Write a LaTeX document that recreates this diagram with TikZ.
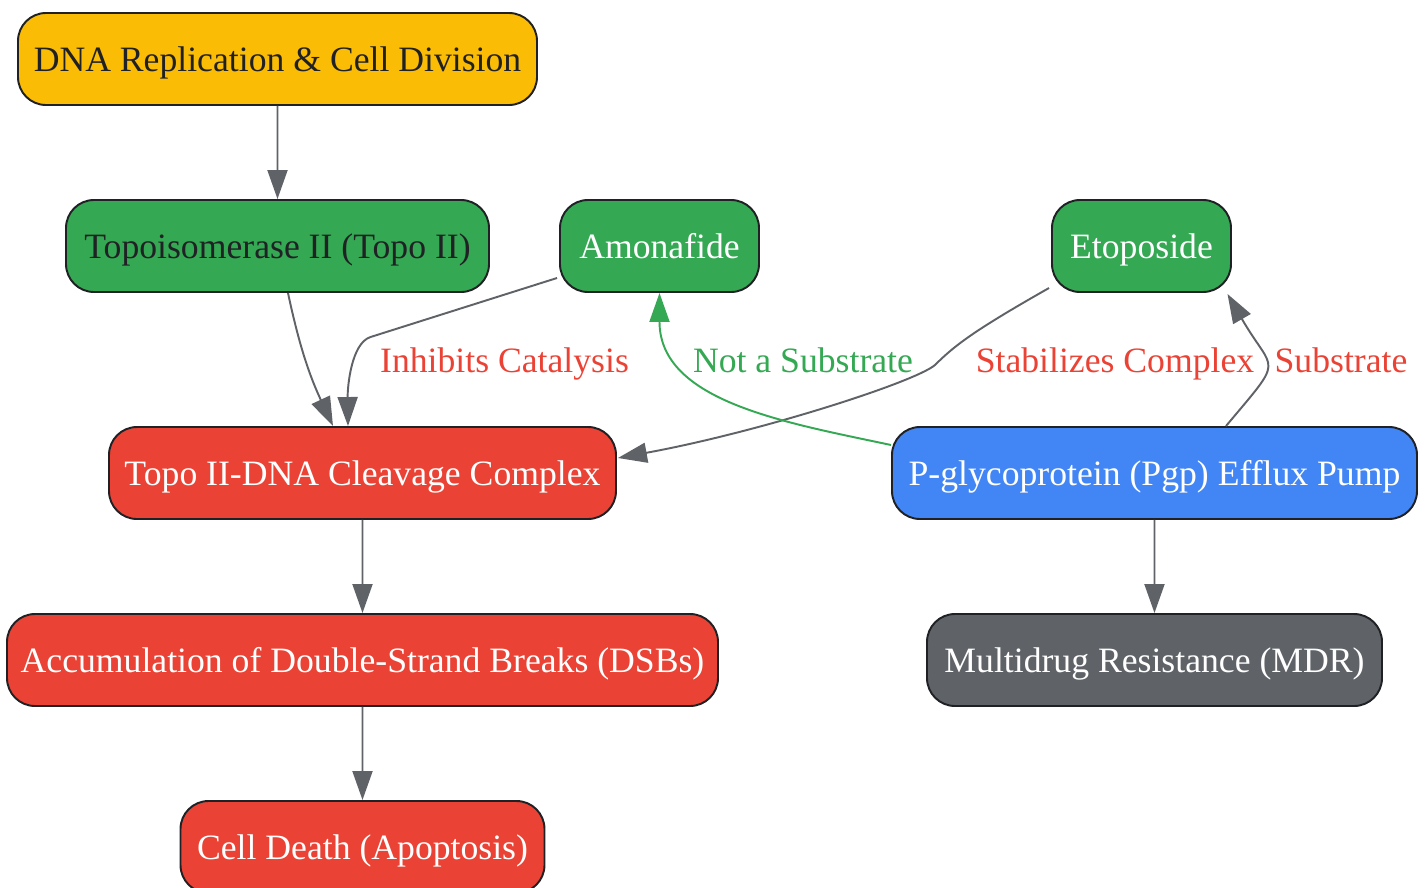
\documentclass[tikz,border=0pt]{standalone}
\usepackage{fontspec}
\setmainfont{Liberation Serif}
\usepackage{tikz}
\usetikzlibrary{arrows.meta,calc}
\definecolor{gyellow}{HTML}{FBBC05}
\definecolor{ggreen}{HTML}{34A853}
\definecolor{gred}{HTML}{EA4335}
\definecolor{gblue}{HTML}{4285F4}
\definecolor{ggray}{HTML}{5F6368}
\definecolor{ink}{HTML}{202124}

\begin{document}
\begin{tikzpicture}[scale=0.2]
\tikzstyle{every node}+=[inner sep=0pt, font=\fontsize{20.3}{24}\selectfont, text height=14.4pt, text depth=0pt]
\tikzstyle{box}=[draw=ink, line width=1.1pt, rounded corners=0.56cm, minimum height=1.84cm, text=white]
\tikzstyle{edge}=[draw=ggray, line width=1.1pt, -{Triangle[length=0.58cm,width=0.4cm]}]
\useasboundingbox (0,0) rectangle (142.6,-88.7);
\node [box, fill=gyellow, text=ink, minimum width=10.38cm] (dna) at (27.75,-5.9) {DNA Replication \& Cell Division};
\node [box, fill=ggreen, text=ink, minimum width=8.46cm] (topo) at (27.75,-24.6) {Topoisomerase II (Topo II)};
\node [box, fill=ggreen, minimum width=3.98cm] (amon) at (65.95,-24.6) {Amonafide};
\node [box, fill=ggreen, minimum width=3.58cm] (eto) at (114.15,-24.6) {Etoposide};
\node [box, fill=gred, minimum width=10.14cm] (cleave) at (36.25,-47.3) {Topo II-DNA Cleavage Complex};
\node [box, fill=gblue, minimum width=10.5cm] (pgp) at (115.45,-47.3) {P-glycoprotein (Pgp) Efflux Pump};
\node [box, fill=gred, minimum width=14.22cm] (dsb) at (36.25,-66.0) {Accumulation of Double-Strand Breaks (DSBs)};
\node [box, fill=ggray, minimum width=9.1cm] (mdr) at (115.45,-66.0) {Multidrug Resistance (MDR)};
\node [box, fill=gred, minimum width=7.28cm] (death) at (36.25,-84.7) {Cell Death (Apoptosis)};
\node [text=gred] (inhib) at (50.45,-36.0) {Inhibits Catalysis};
\node [text=ggreen] (notsub) at (80.3,-36.0) {Not a Substrate};
\node [text=gred] (stab) at (111.5,-36.0) {Stabilizes Complex};
\node [text=gred] (sub) at (134.1,-36.0) {Substrate};
\draw [edge] (dna) -- (topo);
\draw [edge] ($(topo.south)+(1.05,0)$) to[out=-78,in=115] ($(cleave.north)+(-2.95,0)$);
\draw [edge] ($(amon.west)+(-0.2,-3.2)$) -- ($(cleave.north)+(0.8,8.9)$) .. controls ($(cleave.north)+(-1.1,8.3)$) and ($(cleave.north)+(-1.5,4)$) .. ($(cleave.north)+(-1.45,0)$);
\draw [edge] ($(eto.west)+(-0.2,-4.2)$) .. controls (97.5,-33.0) and (95.5,-34.5) .. (93.5,-36.5) .. controls (91.5,-38.2) and (76.0,-43.2) .. ($(cleave.east)+(0.1,1.5)$);
\draw [edge, draw=ggreen] ($(pgp.west)+(0,2.8)$) to[out=168,in=-90] (amon.south);
\draw [edge] ($(pgp.north)+(7.15,0)$) to[out=50,in=-60,looseness=1.8] ($(eto.south)+(8.6,-0.1)$);
\draw [edge] (cleave) -- (dsb);
\draw [edge] (dsb) -- (death);
\draw [edge] (pgp) -- (mdr);
\end{tikzpicture}
\end{document}
